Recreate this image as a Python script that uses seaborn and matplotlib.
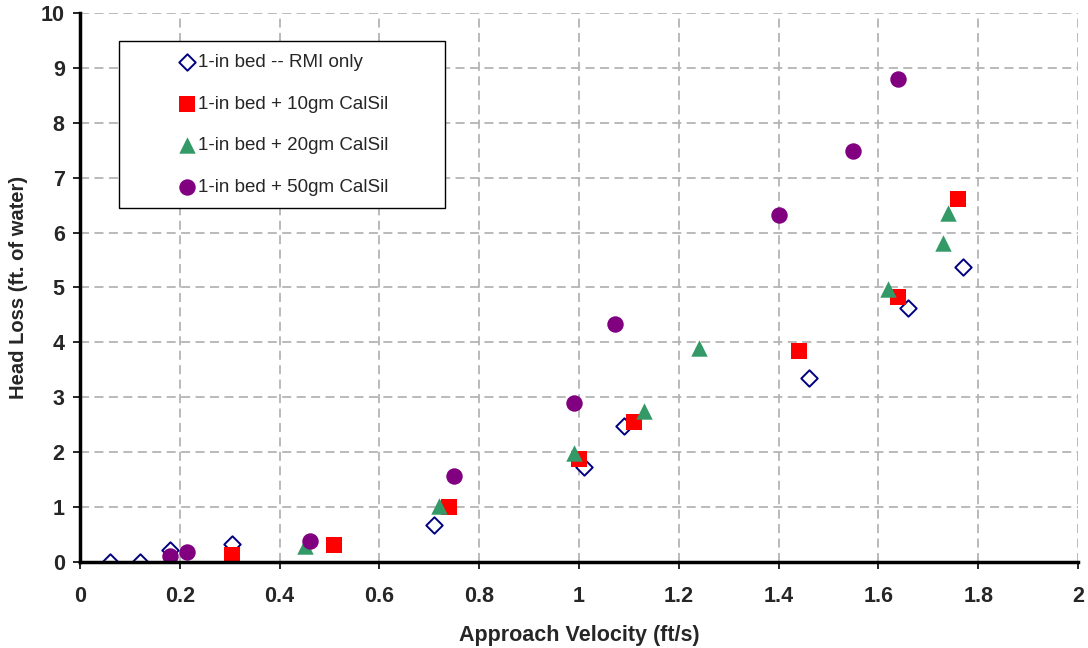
import seaborn as sns
import matplotlib.pyplot as plt
from matplotlib.patches import Rectangle

# values
rmi_x = [0.06, 0.12, 0.18, 0.305, 0.71, 1.01, 1.09, 1.46, 1.66, 1.77]
rmi_y = [0.0, 0.0, 0.22, 0.33, 0.67, 1.73, 2.48, 3.35, 4.63, 5.37]
cal10_x = [0.305, 0.51, 0.74, 1.0, 1.11, 1.44, 1.64, 1.76]
cal10_y = [0.13, 0.31, 1.0, 1.88, 2.55, 3.84, 4.83, 6.61]
cal20_x = [0.45, 0.72, 0.99, 1.13, 1.24, 1.62, 1.73, 1.74]
cal20_y = [0.3, 1.02, 1.99, 2.75, 3.9, 4.97, 5.81, 6.36]
cal50_x = [0.18, 0.214, 0.46, 0.75, 0.99, 1.072, 1.40, 1.55, 1.64]
cal50_y = [0.11, 0.18, 0.38, 1.57, 2.9, 4.34, 6.32, 7.49, 8.8]

labels = [
    "1-in bed -- RMI only",
    "1-in bed + 10gm CalSil",
    "1-in bed + 20gm CalSil",
    "1-in bed + 50gm CalSil",
]

sns.set_theme(style="white")
plt.rcParams["font.family"] = ["Liberation Sans", "DejaVu Sans"]

fig = plt.figure(figsize=(10.88, 6.48), dpi=100)
ax = fig.add_axes([0.0735, 0.1327, 0.9173, 0.8473])

# hollow navy diamonds, filled markers for the rest
sns.scatterplot(x=rmi_x, y=rmi_y, marker="D", s=70, facecolor="white",
                edgecolor="#000080", linewidth=1.4, label=labels[0], ax=ax, zorder=3)
sns.scatterplot(x=cal10_x, y=cal10_y, marker="s", s=140, color="#ff0000",
                edgecolor="#ff0000", linewidth=0, label=labels[1], ax=ax, zorder=3)
sns.scatterplot(x=cal20_x, y=cal20_y, marker="^", s=140, color="#339966",
                edgecolor="#339966", linewidth=0, label=labels[2], ax=ax, zorder=3)
sns.scatterplot(x=cal50_x, y=cal50_y, marker="o", s=140, color="#800080",
                edgecolor="#800080", linewidth=0, label=labels[3], ax=ax, zorder=3)

ax.set_xlim(0, 2)
ax.set_ylim(0, 10)
ax.set_xticks([i / 5 for i in range(11)])
ax.set_xticklabels(["0", "0.2", "0.4", "0.6", "0.8", "1", "1.2", "1.4", "1.6", "1.8", "2"])
ax.set_yticks(range(11))

ax.grid(True, color="#b4b4b4", linestyle=(0, (5, 3)), linewidth=1.3)
ax.set_axisbelow(True)
for side in ["top", "right"]:
    ax.spines[side].set_visible(False)
for side in ["left", "bottom"]:
    ax.spines[side].set_color("black")
    ax.spines[side].set_linewidth(2.5)
    ax.spines[side].set_zorder(4)

ax.tick_params(axis="both", direction="out", length=5, width=1.2, color="black",
               labelsize=15.5, bottom=True, left=True)
ax.tick_params(axis="x", pad=12)
ax.tick_params(axis="y", pad=6)
for lab in ax.get_xticklabels() + ax.get_yticklabels():
    lab.set_fontweight("bold")

ax.set_xlabel("Approach Velocity (ft/s)", fontsize=15.5, fontweight="bold", labelpad=13)
ax.set_ylabel("Head Loss (ft. of water)", fontsize=14.5, fontweight="bold", labelpad=9)

# legend frame drawn separately so it can be wider than its content
ax.add_patch(Rectangle((0.039, 0.645), 0.327, 0.304, transform=ax.transAxes,
                       facecolor="white", edgecolor="black", linewidth=1.0, zorder=5))
leg = ax.legend(
    loc="center left",
    bbox_to_anchor=(0.090, 0.796),
    borderaxespad=0,
    fontsize=13.5,
    frameon=False,
    labelspacing=1.3,
    handlelength=1.0,
    handletextpad=0.1,
    borderpad=0.4,
    scatterpoints=1,
)
leg.set_zorder(6)

fig.savefig("out.png", dpi=100)
